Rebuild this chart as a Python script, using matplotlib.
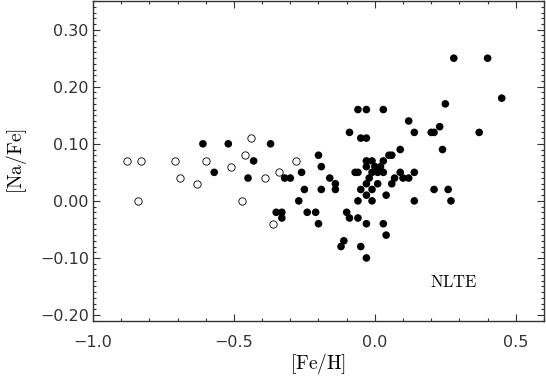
import matplotlib
matplotlib.use('Agg')
import matplotlib.pyplot as plt
from matplotlib.ticker import MultipleLocator

plt.rcParams['mathtext.fontset'] = 'cm'
plt.rcParams['font.family'] = ['DejaVu Sans']

# open circles (metal-poor stars)
fe_open = [-0.88, -0.83, -0.84, -0.71, -0.69, -0.63, -0.60, -0.51, -0.47,
           -0.46, -0.44, -0.39, -0.36, -0.34, -0.28]
na_open = [0.07, 0.07, 0.00, 0.07, 0.04, 0.03, 0.07, 0.06, 0.00,
           0.08, 0.11, 0.04, -0.04, 0.05, 0.07]

# filled circles
fe_fill = [-0.61, -0.57, -0.52, -0.45, -0.43, -0.37, -0.35, -0.33, -0.33,
           -0.32, -0.30, -0.26, -0.27, -0.25, -0.24,
           0.28, 0.40, 0.45, 0.25, -0.06, -0.03, 0.03, 0.12, 0.23, -0.09,
           0.20, 0.21, 0.14, 0.37, -0.05, -0.03, 0.09, 0.24, -0.20, 0.05,
           0.06, -0.03, -0.01, 0.03, -0.19, -0.03, 0.00, 0.02, -0.07, -0.06,
           -0.01, 0.01, 0.03, 0.09, 0.14, -0.16, -0.02, 0.07, 0.10, 0.12,
           -0.14, -0.03, 0.01, 0.06, -0.19, -0.14, -0.05, -0.01, 0.21, 0.26,
           -0.03, 0.04, -0.06, -0.01, 0.14, 0.27, -0.21, -0.20, -0.10, -0.09,
           -0.06, -0.03, 0.03, 0.04, -0.11, -0.12, -0.05, -0.03]
na_fill = [0.10, 0.05, 0.10, 0.04, 0.07, 0.10, -0.02, -0.02, -0.03,
           0.04, 0.04, 0.05, 0.00, 0.02, -0.02,
           0.25, 0.25, 0.18, 0.17, 0.16, 0.16, 0.16, 0.14, 0.13, 0.12,
           0.12, 0.12, 0.12, 0.12, 0.11, 0.11, 0.09, 0.09, 0.08, 0.08,
           0.08, 0.07, 0.07, 0.07, 0.06, 0.06, 0.06, 0.06, 0.05, 0.05,
           0.05, 0.05, 0.05, 0.05, 0.05, 0.04, 0.04, 0.04, 0.04, 0.04,
           0.03, 0.03, 0.03, 0.03, 0.02, 0.02, 0.02, 0.02, 0.02, 0.02,
           0.01, 0.01, 0.00, 0.00, 0.00, 0.00, -0.02, -0.04, -0.02, -0.03,
           -0.03, -0.04, -0.04, -0.06, -0.07, -0.08, -0.08, -0.10]

fig = plt.figure(figsize=(5.46, 3.76), dpi=100)
ax = fig.add_axes([0.1703, 0.147, 0.8260, 0.850])

ax.scatter(fe_fill, na_fill, s=30, c='black', edgecolors='none', zorder=3)
ax.scatter(fe_open, na_open, s=28, facecolors='white', edgecolors='black',
           linewidths=0.6, zorder=3)

ax.set_xlim(-1.0, 0.6)
ax.set_ylim(-0.21, 0.35)
ax.xaxis.set_major_locator(MultipleLocator(0.5))
ax.xaxis.set_minor_locator(MultipleLocator(0.1))
ax.yaxis.set_major_locator(MultipleLocator(0.1))
ax.yaxis.set_minor_locator(MultipleLocator(0.01))
ax.xaxis.set_major_formatter(plt.FuncFormatter(lambda v, p: f'{v:.1f}'.replace('-', '\u2212')))
ax.yaxis.set_major_formatter(plt.FuncFormatter(lambda v, p: f'{v:.2f}'.replace('-', '\u2212')))

ax.tick_params(which='both', direction='in', top=True, right=True,
               width=0.8, labelsize=11.5, colors='#333333', labelcolor='#333333')
ax.tick_params(which='major', length=5)
ax.tick_params(which='minor', length=2.5)
ax.tick_params(axis='x', pad=10)
ax.tick_params(axis='y', pad=3)
for s in ax.spines.values():
    s.set_linewidth(1.0)
    s.set_color('#333333')

ax.set_xlabel(r'$\mathrm{[Fe/H]}$', fontsize=14, labelpad=1)
ax.set_ylabel(r'$\mathrm{[Na/Fe]}$', fontsize=14, labelpad=8)
ax.text(0.281, -0.142, r'$\mathrm{NLTE}$', fontsize=12, ha='center', va='center')

fig.savefig('out.png', dpi=100)
